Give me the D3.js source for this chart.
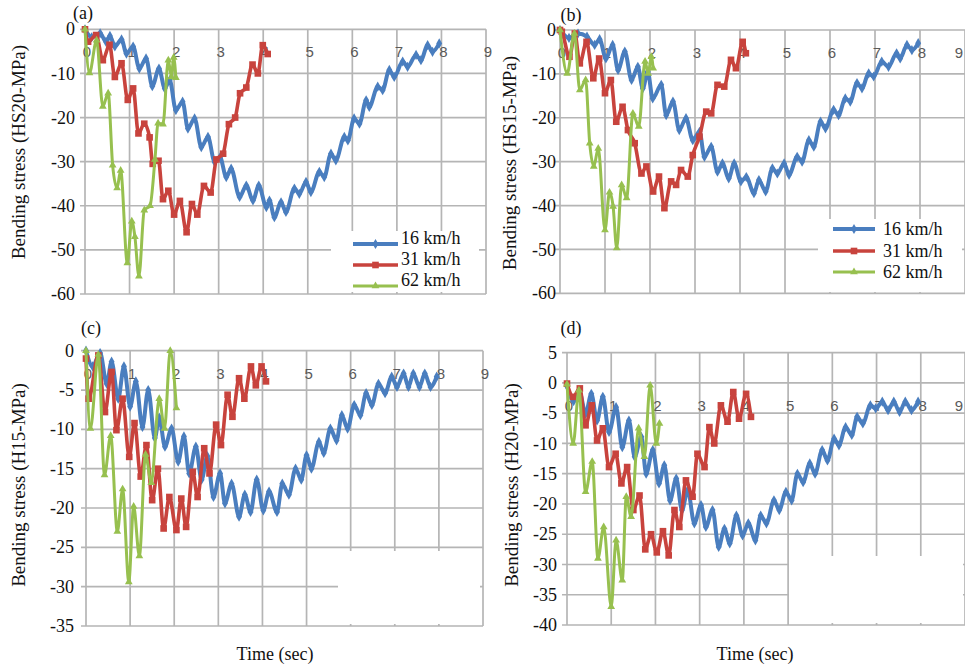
<!DOCTYPE html>
<html>
<head>
<meta charset="utf-8">
<script src="https://cdn.jsdelivr.net/npm/d3@7"></script>
<style>
  body { margin: 0; background: #fff; }
  svg { display: block; }
  svg text { font-family: 'Liberation Serif', 'DejaVu Serif', serif; fill: #111; }
  svg text.xl { font-family: 'Liberation Sans', Arial, sans-serif; fill: #5a5a5a; }
</style>
</head>
<body>
<svg id="fig" width="965" height="670"></svg>
<script>
const speeds = ['16 km/h', '31 km/h', '62 km/h']
const xTicks = [0, 1, 2, 3, 4, 5, 6, 7, 8, 9]

// [time (sec), bending stress (MPa)]
const a16 = [[0,0],[0.15,-1.8],[0.34,-0.9],[0.47,-2.8],[0.56,-1.5],[0.67,-3.9],[0.82,-2.3],[0.93,-5.5],[1.08,-3.9],[1.22,-8.9],[1.37,-6.6],[1.51,-12.9],[1.66,-8.9],[1.79,-13.4],[1.9,-11.5],[2.04,-18.3],[2.19,-16.4],[2.31,-22.5],[2.46,-20.2],[2.61,-26.7],[2.76,-24.4],[2.91,-30.1],[3.03,-29],[3.17,-33.5],[3.28,-31.6],[3.47,-38],[3.62,-35.4],[3.77,-38.8],[3.9,-35.4],[4.07,-40.3],[4.14,-38.8],[4.25,-42.6],[4.4,-39.2],[4.51,-41.4],[4.7,-36.1],[4.81,-37.3],[4.96,-34.6],[5.07,-36.9],[5.26,-32.3],[5.37,-33.5],[5.52,-28.2],[5.63,-29.7],[5.82,-24.4],[5.9,-25.2],[6.04,-20.2],[6.16,-21.4],[6.31,-16.1],[6.38,-17.6],[6.57,-13],[6.68,-13.8],[6.83,-9.2],[6.94,-10.8],[7.13,-7.3],[7.24,-8.5],[7.43,-5.8],[7.54,-7],[7.69,-3.6],[7.8,-5.1],[7.95,-3.2]]
const a31 = [[0,0],[0.07,-2.8],[0.25,-1.3],[0.4,-7],[0.55,-3.5],[0.67,-10.8],[0.82,-7.7],[0.96,-16],[1.08,-13.4],[1.2,-23.6],[1.33,-21.4],[1.45,-24.5],[1.52,-30.5],[1.65,-29.8],[1.75,-38.5],[1.87,-36.6],[2.0,-42],[2.13,-38.9],[2.28,-46],[2.4,-39.6],[2.52,-42],[2.67,-35.5],[2.82,-37],[2.95,-29.5],[3.1,-28.2],[3.23,-21.5],[3.37,-20],[3.48,-14.5],[3.62,-13.2],[3.76,-8],[3.88,-10],[3.99,-3.6],[4.1,-5.6]]
const a62 = [[0,0],[0.1,-9.9],[0.26,-2.5],[0.4,-17.5],[0.52,-14.5],[0.62,-30.8],[0.72,-36],[0.8,-32],[0.95,-53],[1.05,-43.5],[1.12,-47],[1.21,-56],[1.33,-41],[1.46,-40],[1.57,-29.5],[1.64,-21.3],[1.75,-21.5],[1.87,-7],[1.94,-10.8],[1.99,-6.4],[2.04,-11]]

const b16 = [[0,0],[0.2,-1.8],[0.4,-0.8],[0.6,-1.5],[0.77,-3.4],[0.88,-2.1],[1.02,-6.5],[1.17,-3.4],[1.29,-9.1],[1.44,-4.9],[1.59,-11.4],[1.73,-8.4],[1.84,-13.3],[1.95,-9.5],[2.06,-15.6],[2.25,-12.5],[2.36,-19.4],[2.51,-16.3],[2.65,-22.8],[2.8,-20.1],[2.95,-25.1],[3.1,-23.2],[3.21,-28.9],[3.36,-26.6],[3.5,-32.3],[3.61,-30.4],[3.75,-33.8],[3.87,-30.4],[4.02,-34.5],[4.14,-33.5],[4.31,-37.2],[4.42,-34.2],[4.57,-36.8],[4.72,-31.5],[4.83,-32.7],[4.98,-30.4],[5.09,-33],[5.27,-28.9],[5.38,-30],[5.53,-25.1],[5.64,-26.6],[5.79,-20.9],[5.9,-22.4],[6.08,-18.2],[6.19,-19.4],[6.34,-15.6],[6.45,-16.3],[6.6,-12.1],[6.71,-13.3],[6.86,-9.9],[6.97,-10.6],[7.15,-7.2],[7.3,-8.4],[7.48,-5.3],[7.56,-6.5],[7.71,-3.4],[7.82,-4.6],[7.96,-3]]
const b31 = [[0,0],[0.04,-0.4],[0.21,-6.1],[0.33,-0.8],[0.44,-7.6],[0.59,-2.7],[0.74,-11],[0.87,-6.5],[1.0,-14.4],[1.13,-11.4],[1.25,-20.9],[1.39,-17.5],[1.51,-22.8],[1.66,-25.8],[1.81,-32.7],[1.92,-31.1],[2.07,-36.8],[2.2,-33.4],[2.32,-40.6],[2.47,-34.5],[2.58,-35.3],[2.69,-31.9],[2.84,-33.4],[2.95,-28.5],[3.1,-24.3],[3.25,-18.6],[3.36,-19],[3.5,-12.5],[3.65,-12.9],[3.8,-6.8],[3.91,-8.7],[4.06,-2.7],[4.13,-5.3]]
const b62 = [[0,0],[0.16,-9.9],[0.32,-0.8],[0.44,-13.7],[0.57,-11.4],[0.66,-25.8],[0.75,-31.1],[0.85,-27],[1.0,-45.6],[1.1,-37],[1.18,-40.2],[1.26,-49.7],[1.37,-35.3],[1.48,-38.3],[1.62,-19],[1.75,-22],[1.89,-7.2],[1.96,-9.9],[2.03,-6.1],[2.07,-8.7]]

const c16 = [[0,0],[0.15,-2],[0.32,-0.3],[0.47,-4.2],[0.58,-1.4],[0.73,-6.1],[0.86,-2],[1.0,-7.1],[1.13,-3.9],[1.28,-9.7],[1.41,-5],[1.56,-11.1],[1.66,-8.5],[1.79,-12.2],[1.94,-9.9],[2.09,-14.1],[2.22,-10.9],[2.34,-15.6],[2.49,-12.2],[2.62,-16.4],[2.75,-13.4],[2.89,-18.6],[3.04,-15.6],[3.15,-19.4],[3.3,-16.9],[3.47,-21.1],[3.6,-18.3],[3.73,-20.5],[3.87,-16.4],[4.02,-20.3],[4.15,-17.9],[4.33,-20.5],[4.45,-16.9],[4.6,-18.3],[4.75,-15],[4.88,-16.4],[5.0,-13.3],[5.11,-15],[5.28,-11.6],[5.39,-13],[5.54,-9.9],[5.68,-11.4],[5.8,-8.2],[5.93,-9.9],[6.08,-6.9],[6.22,-8.2],[6.35,-5.4],[6.48,-6.9],[6.63,-4.2],[6.78,-5.4],[6.93,-3.3],[7.05,-4.6],[7.2,-2.9],[7.31,-4.6],[7.42,-2.9],[7.56,-4.6],[7.68,-2.9],[7.81,-4.6],[7.95,-3.3]]
const c31 = [[0,-1],[0.06,-6.1],[0.28,-0.6],[0.43,-7.8],[0.58,-2.7],[0.69,-10.1],[0.83,-6.1],[0.98,-13.5],[1.1,-9.2],[1.24,-16],[1.37,-12],[1.5,-19],[1.63,-15],[1.76,-22.6],[1.89,-18.6],[2.05,-22.8],[2.16,-18.8],[2.27,-22.4],[2.42,-15.4],[2.53,-18.6],[2.68,-12.4],[2.8,-15.6],[2.95,-9.4],[3.06,-12],[3.21,-5.6],[3.32,-8.4],[3.47,-3.5],[3.59,-6.1],[3.74,-2],[3.85,-4.4],[3.98,-2],[4.08,-3.9]]
const c62 = [[0,0],[0.1,-9.9],[0.28,-0.5],[0.42,-15.8],[0.56,-10.8],[0.71,-23],[0.83,-17.6],[0.97,-29.4],[1.08,-19.8],[1.21,-26.1],[1.35,-13.2],[1.48,-16.8],[1.66,-6.1],[1.78,-9.9],[1.91,0],[2.05,-7.3]]

const d16 = [[0,-0.5],[0.15,-3],[0.29,-1.7],[0.42,-5.1],[0.55,-1.8],[0.68,-6.2],[0.81,-2.3],[0.95,-8.1],[1.11,-4],[1.25,-10.6],[1.4,-6.2],[1.53,-12.2],[1.68,-8.9],[1.79,-15],[1.94,-11.1],[2.08,-16.6],[2.2,-13.6],[2.33,-19.4],[2.47,-15.8],[2.6,-21],[2.73,-17.7],[2.88,-23.2],[3.03,-20.2],[3.14,-23.8],[3.29,-21],[3.43,-27.1],[3.56,-24.1],[3.68,-26.5],[3.83,-21.9],[3.97,-25.2],[4.1,-23.2],[4.26,-26],[4.38,-21.9],[4.51,-23.2],[4.68,-19.4],[4.8,-21],[4.95,-18],[5.08,-19.4],[5.21,-15],[5.34,-16.4],[5.49,-13.3],[5.61,-15],[5.77,-11.1],[5.89,-12.8],[6.04,-9.2],[6.15,-10.3],[6.3,-7.3],[6.44,-8.6],[6.56,-5.6],[6.69,-6.7],[6.86,-3.7],[6.98,-4.2],[7.13,-3.1],[7.26,-4.5],[7.39,-3.1],[7.52,-4.8],[7.65,-3.1],[7.79,-4.5],[7.94,-3.1]]
const d31 = [[0,-0.1],[0.14,-2.3],[0.29,-0.9],[0.42,-7],[0.56,-3.7],[0.68,-9.5],[0.81,-7.5],[0.95,-13.9],[1.1,-11.7],[1.23,-16.6],[1.36,-13.9],[1.5,-21],[1.64,-18.6],[1.77,-27.5],[1.9,-25],[2.03,-28],[2.17,-24.5],[2.3,-28.5],[2.43,-21],[2.54,-23.8],[2.69,-16.1],[2.84,-18.8],[2.95,-11.7],[3.11,-13.9],[3.22,-7.3],[3.33,-10],[3.48,-3.7],[3.63,-6.4],[3.76,-1.5],[3.89,-5.9],[4.05,-1.8],[4.16,-5.6]]
const d62 = [[0,-0.2],[0.14,-10],[0.27,-1.2],[0.42,-18],[0.57,-13],[0.7,-29],[0.83,-23.8],[1.0,-37],[1.11,-26],[1.25,-32.6],[1.34,-18.8],[1.45,-22.1],[1.62,-7.5],[1.75,-12.2],[1.88,-0.4],[2.02,-10],[2.09,-6.7]]

const ticks60 = [0, -10, -20, -30, -40, -50, -60]
const ticks35 = [0, -5, -10, -15, -20, -25, -30, -35]
const ticks40 = [5, 0, -5, -10, -15, -20, -25, -30, -35, -40]

const panels = [
    { tag: '(a)', title: 'Bending stress (HS20-MPa)', yDomain: [-60, 0], yTicks: ticks60, series: [a16, a31, a62],
      left: 85, right: 486, top: 29.3, bottom: 294, labelGap: 10, tagX: 83, tagY: 19, titleX: 19, titleY: 152,
      patch: [331, 231, 148, 61],
      legend: { x1: 353, x2: 398, tx: 401, base: [244, 265, 286], lineDy: 0 } },
    { tag: '(b)', title: 'Bending stress (HS15-MPa)', yDomain: [-60, 0], yTicks: ticks60, series: [b16, b31, b62],
      left: 560, right: 965, top: 30, bottom: 293.3, labelGap: 4, tagX: 571, tagY: 21, titleX: 510, titleY: 163,
      patch: [818, 219, 144, 73],
      legend: { x1: 833, x2: 875, tx: 883, base: [235, 257, 278], lineDy: -6 } },
    { tag: '(c)', title: 'Bending stress (H15-MPa)', yDomain: [-35, 0], yTicks: ticks35, series: [c16, c31, c62],
      left: 86, right: 483, top: 350.7, bottom: 626, labelGap: 12, tagX: 91, tagY: 334, titleX: 19, titleY: 485,
      patch: [338, 551, 142, 73], xTitle: 275 },
    { tag: '(d)', title: 'Bending stress (H20-MPa)', yDomain: [-40, 5], yTicks: ticks40, series: [d16, d31, d62],
      left: 567, right: 965, top: 352.7, bottom: 625, labelGap: 10, tagX: 571, tagY: 334, titleX: 512, titleY: 485,
      patch: [789, 556, 174, 67], xTitle: 755 }
]

const colors = ['#4a7ebf', '#c8433d', '#97c04f']
const symbols = [d3.symbolDiamond, d3.symbolSquare, d3.symbolTriangle]
const symSizes = [30, 44, 26]
const lineWidths = [4, 3.6, 3]
const gridColor = '#b5b5b5'
const pageW = 965

const svg = d3.select('#fig')

svg.append('rect').attr('width', 965).attr('height', 670).attr('fill', '#fff')

function drawPanel(p) {
    const x = d3.scaleLinear().domain([0, 9]).range([p.left, p.right])
    const y = d3.scaleLinear().domain(p.yDomain).range([p.bottom, p.top])
    const g = svg.append('g')

    // grid
    g.selectAll('line.h')
        .data(p.yTicks)
        .join('line')
        .attr('x1', p.left - 5)
        .attr('x2', p.right)
        .attr('y1', d => y(d))
        .attr('y2', d => y(d))
        .attr('stroke', gridColor)
        .attr('stroke-width', 1.7)

    g.selectAll('line.v')
        .data(xTicks)
        .join('line')
        .attr('x1', d => x(d))
        .attr('x2', d => x(d))
        .attr('y1', p.top)
        .attr('y2', p.bottom)
        .attr('stroke', gridColor)
        .attr('stroke-width', 1.7)

    // white area left over in the source figure
    g.append('rect')
        .attr('x', p.patch[0])
        .attr('y', p.patch[1])
        .attr('width', p.patch[2])
        .attr('height', p.patch[3])
        .attr('fill', '#fff')

    // y tick labels
    g.selectAll('text.yl')
        .data(p.yTicks)
        .join('text')
        .attr('x', p.left - p.labelGap)
        .attr('y', d => y(d))
        .attr('dy', '0.34em')
        .attr('text-anchor', 'end')
        .attr('font-size', 18)
        .text(d => d)

    // x tick labels sit just under the zero line
    g.selectAll('text.xl')
        .data(xTicks)
        .join('text')
        .attr('class', 'xl')
        .attr('x', d => Math.min(x(d) + 2, pageW - 6))
        .attr('y', y(0) + 28)
        .attr('text-anchor', 'middle')
        .attr('font-size', 15)
        .text(d => d)

    // series
    p.series.forEach((s, i) => {
        const line = d3.line()
            .x(d => x(d[0]))
            .y(d => y(d[1]))
            .curve(d3.curveMonotoneX)

        g.append('path')
            .datum(s)
            .attr('d', line)
            .attr('fill', 'none')
            .attr('stroke', colors[i])
            .attr('stroke-width', lineWidths[i])
            .attr('stroke-linejoin', 'round')

        g.selectAll(null)
            .data(s)
            .join('path')
            .attr('transform', d => `translate(${x(d[0])},${y(d[1])})`)
            .attr('d', d3.symbol(symbols[i], symSizes[i]))
            .attr('fill', colors[i])
    })

    // panel tag and axis titles
    g.append('text')
        .attr('x', p.tagX)
        .attr('y', p.tagY)
        .attr('text-anchor', 'middle')
        .attr('font-size', 18)
        .text(p.tag)

    g.append('text')
        .attr('transform', `translate(${p.titleX},${p.titleY}) rotate(-90)`)
        .attr('dy', '0.32em')
        .attr('text-anchor', 'middle')
        .attr('font-size', 19)
        .text(p.title)

    if (p.xTitle) {
        g.append('text')
            .attr('x', p.xTitle)
            .attr('y', 660)
            .attr('text-anchor', 'middle')
            .attr('font-size', 18)
            .text('Time (sec)')
    }

    if (p.legend) {
        const L = p.legend
        speeds.forEach((name, i) => {
            const ly = L.base[i] + L.lineDy
            g.append('line')
                .attr('x1', L.x1)
                .attr('x2', L.x2)
                .attr('y1', ly)
                .attr('y2', ly)
                .attr('stroke', colors[i])
                .attr('stroke-width', lineWidths[i])
            g.append('path')
                .attr('transform', `translate(${(L.x1 + L.x2) / 2},${ly})`)
                .attr('d', d3.symbol(symbols[i], symSizes[i]))
                .attr('fill', colors[i])
            g.append('text')
                .attr('x', L.tx)
                .attr('y', L.base[i])
                .attr('font-size', 18)
                .text(name)
        })
    }
}

panels.forEach(drawPanel)
</script>
</body>
</html>
